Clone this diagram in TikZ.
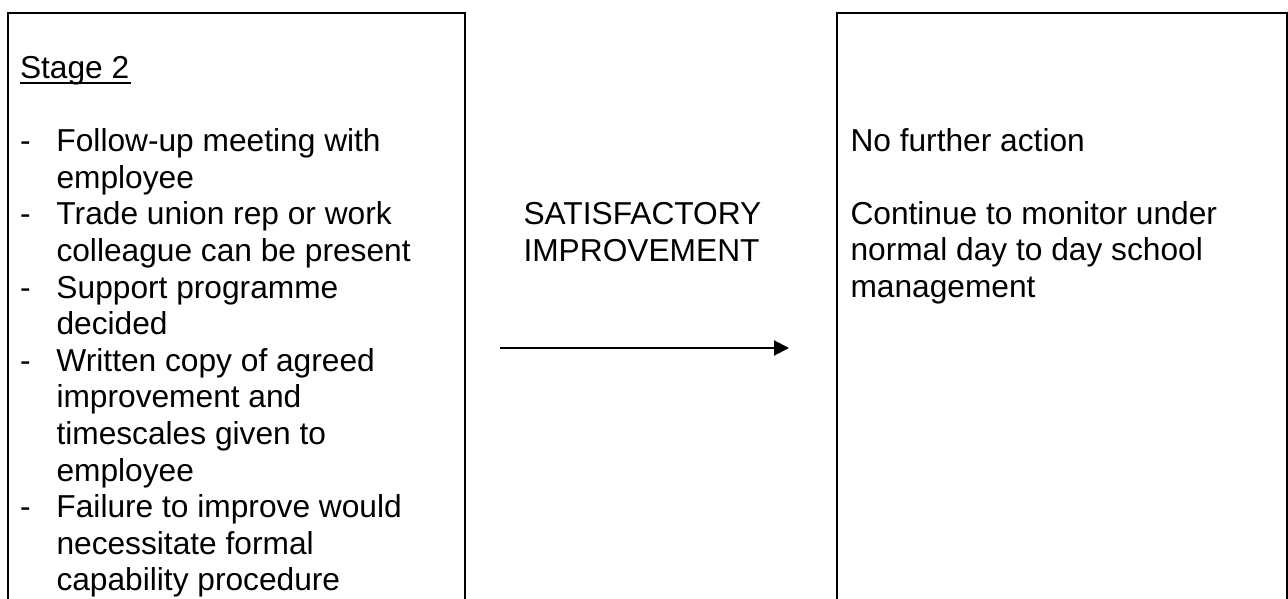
\documentclass[tikz,border=0pt]{standalone}
\usepackage{fontspec}
\setmainfont{Liberation Sans}
\usetikzlibrary{arrows.meta}
\begin{document}
\begin{tikzpicture}[x=1pt,y=-1pt,
  panel/.style={draw=black, line width=2pt, inner sep=0pt, outer sep=0pt, anchor=north west},
  txt/.style={anchor=base west, inner sep=0pt, outer sep=0pt, font=\fontsize{31.7}{36.6}\selectfont, text=black},
  conn/.style={line width=2pt, -{Triangle[length=15pt,width=15pt]}}
]
\useasboundingbox (0,0) rectangle (1288,599);
\clip (0,0) rectangle (1288,599);
% boxes
\node[panel, minimum width=456.5pt, minimum height=700pt] (lbox) at (8,13) {};
\node[panel, minimum width=450pt, minimum height=700pt] (rbox) at (837,13) {};
% left text
\node[txt] (stage) at (20,78.5) {Stage 2};
\draw[line width=2.3pt] ([yshift=-4.8pt]stage.base west) -- ([yshift=-4.8pt,xshift=2pt]stage.base east);
\node[txt] (list) at (20,151.7) {\begin{tabular}[t]{@{}l@{}l@{}}
\makebox[36.5pt][l]{-} & Follow-up meeting with\\
 & employee\\
\makebox[36.5pt][l]{-} & Trade union rep or work\\
 & colleague can be present\\
\makebox[36.5pt][l]{-} & Support programme\\
 & decided\\
\makebox[36.5pt][l]{-} & Written copy of agreed\\
 & improvement and\\
 & timescales given to\\
 & employee\\
\makebox[36.5pt][l]{-} & Failure to improve would\\
 & necessitate formal\\
 & capability procedure
\end{tabular}};
% middle label
\node[txt] (mid) at (523.5,224.6) {\begin{tabular}[t]{@{}l@{}}
SATISFACTORY\\
IMPROVEMENT
\end{tabular}};
% right text
\node[txt] (rtext) at (850.5,151.2) {\begin{tabular}[t]{@{}l@{}}
No further action\\
\\
Continue to monitor under\\
normal day to day school\\
management
\end{tabular}};
% arrow
\coordinate (astart) at (500,348);
\coordinate (aend) at (789,348);
\draw[conn] (astart) -- (aend);
\end{tikzpicture}
\end{document}
